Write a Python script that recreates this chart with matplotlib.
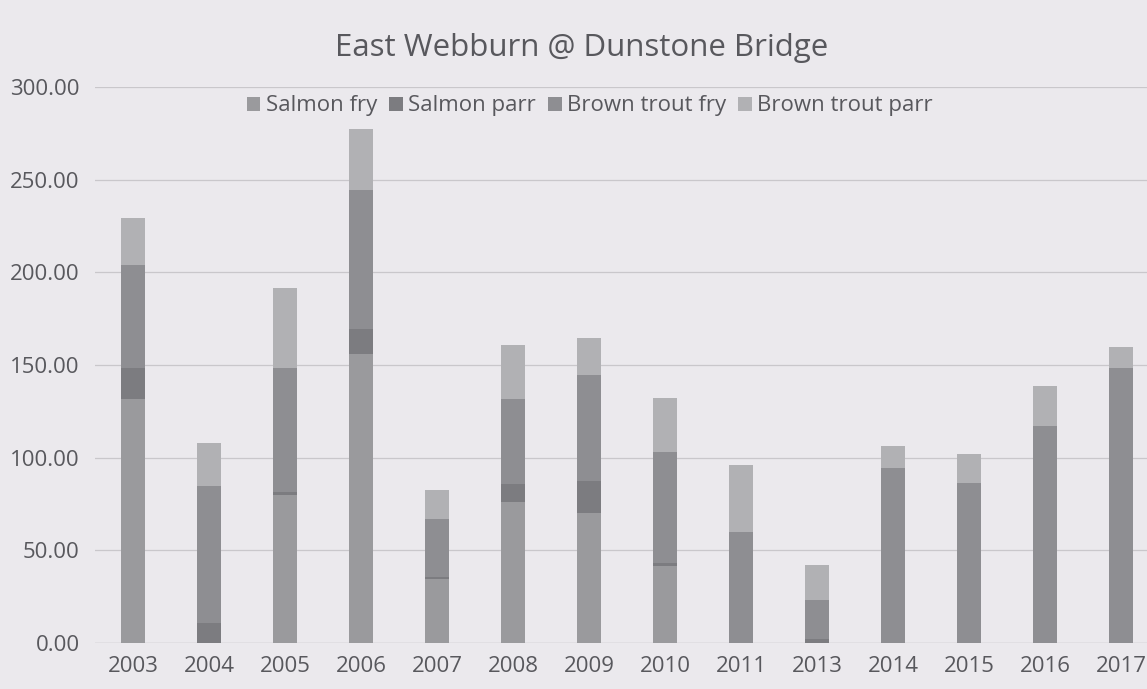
import numpy as np
from matplotlib import pyplot as plt

years = ['2003', '2004', '2005', '2006', '2007', '2008', '2009',
         '2010', '2011', '2013', '2014', '2015', '2016', '2017']
salmon_fry = [131.7, 0, 80.0, 155.8, 34.6, 76.0, 70.2, 41.5, 0, 0, 0, 0, 0, 0]
salmon_parr = [16.8, 10.6, 1.5, 13.4, 1.0, 9.6, 17.3, 1.5, 0, 2.0, 0, 0, 0, 0]
brown_trout_fry = [55.7, 74.0, 67.0, 75.4, 31.3, 46.1, 57.3, 60.3, 60.0, 21.1,
                   94.6, 86.2, 117.3, 148.5]
brown_trout_parr = [25.0, 23.1, 42.8, 32.7, 15.8, 28.9, 19.6, 28.8, 36.2, 19.2,
                    11.6, 15.7, 21.5, 11.1]

series = [
    ('Salmon fry', salmon_fry, '#9a9a9d'),
    ('Salmon parr', salmon_parr, '#7c7c80'),
    ('Brown trout fry', brown_trout_fry, '#8e8e92'),
    ('Brown trout parr', brown_trout_parr, '#b1b1b4'),
]

bg = '#ebe9ed'
text_col = '#58585d'
plt.rcParams['font.family'] = ['Open Sans', 'DejaVu Sans']

fig = plt.figure(figsize=(11.47, 6.89), dpi=100, facecolor=bg)
ax = fig.add_axes([95 / 1147, 1 - 643 / 689, 1064 / 1147, 556 / 689], facecolor=bg)

x = np.arange(len(years))
bottom = np.zeros(len(years))
for name, vals, col in series:
    ax.bar(x, vals, width=0.31, bottom=bottom, color=col, label=name, zorder=3)
    bottom += np.array(vals)

ax.set_xlim(-0.5, len(years) - 0.5)
ax.set_ylim(0, 300)
ax.set_yticks(np.arange(0, 301, 50))
ax.set_yticklabels([f'{v:.2f}' for v in np.arange(0, 301, 50)])
ax.set_xticks(x)
ax.set_xticklabels(years)
ax.grid(axis='y', color='#c9c7cb', lw=0.9, zorder=0)
ax.tick_params(length=0, labelsize=16, colors=text_col, pad=9)
ax.tick_params(axis='y', pad=11)
for s in ax.spines.values():
    s.set_visible(False)
ax.axhline(0, color='#c2c0c4', lw=0.9, zorder=2)

fig.text(582 / 1147, 1 - 48 / 689, 'East Webburn @ Dunstone Bridge',
         ha='center', va='center', fontsize=22.5, color=text_col)
fig.legend(loc='center', bbox_to_anchor=(590 / 1147, 1 - 106 / 689), ncol=4,
           frameon=False, fontsize=16, handlelength=0.6, handleheight=0.6,
           handletextpad=0.25, columnspacing=0.55, labelcolor=text_col)

fig.savefig('out.png', dpi=100, facecolor=bg)
